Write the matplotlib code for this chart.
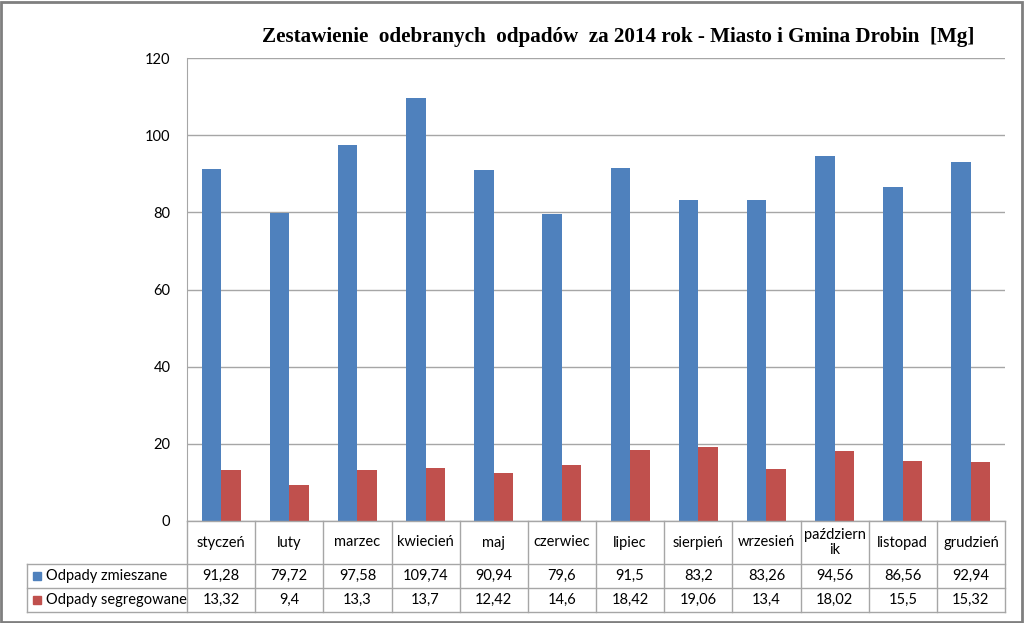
import matplotlib
matplotlib.use("Agg")
import matplotlib.pyplot as plt
from matplotlib.patches import Rectangle
from matplotlib.lines import Line2D
import numpy as np

months = ["styczeń", "luty", "marzec", "kwiecień", "maj", "czerwiec", "lipiec",
          "sierpień", "wrzesień", "październ\nik", "listopad", "grudzień"]
mixed = [91.28, 79.72, 97.58, 109.74, 90.94, 79.6, 91.5, 83.2, 83.26, 94.56, 86.56, 92.94]
mixed_labels = ["91,28", "79,72", "97,58", "109,74", "90,94", "79,6", "91,5", "83,2", "83,26", "94,56", "86,56", "92,94"]
segregated = [13.32, 9.4, 13.3, 13.7, 12.42, 14.6, 18.42, 19.06, 13.4, 18.02, 15.5, 15.32]
segregated_labels = ["13,32", "9,4", "13,3", "13,7", "12,42", "14,6", "18,42", "19,06", "13,4", "18,02", "15,5", "15,32"]
series_names = ["Odpady zmieszane", "Odpady segregowane"]
yticks = [0, 20, 40, 60, 80, 100, 120]
title = "Zestawienie  odebranych  odpadów  za 2014 rok - Miasto i Gmina Drobin  [Mg]"

W, H = 1024, 623
fig = plt.figure(figsize=(W / 100, H / 100), dpi=100)
BLUE = "#4F81BD"
RED = "#C0504D"
GRID = "#A6A6A6"
FONT = "Lato"
FS = 10.5

def fx(px):
    return px / W

def fy(py):
    return 1 - py / H

x0, x1 = 187, 1005
ytop, ybot = 58, 521
ax = fig.add_axes([fx(x0), fy(ybot), fx(x1) - fx(x0), fy(ytop) - fy(ybot)])
n = len(months)
x = np.arange(n)
bw = 0.285
ax.bar(x - bw / 2, mixed, bw, color=BLUE, zorder=3)
ax.bar(x + bw / 2, segregated, bw, color=RED, zorder=3)
ax.set_xlim(-0.5, n - 0.5)
ax.set_ylim(0, 120)
ax.set_yticks(yticks)
ax.set_yticklabels([str(t) for t in yticks], fontsize=FS, fontfamily=FONT)
ax.tick_params(axis="y", length=0, pad=12)
ax.set_xticks([])
ax.grid(axis="y", color=GRID, linewidth=1, zorder=0)
for s in ["top", "right", "bottom"]:
    ax.spines[s].set_visible(False)
ax.spines["left"].set_color(GRID)

# data table
cw = (x1 - x0) / n
r0, r1, r2, r3 = 521, 564, 588, 612
lab_left = 27
lines = []
lines.append(Line2D([fx(x0), fx(x1)], [fy(r0), fy(r0)]))
for r in (r1, r2, r3):
    lines.append(Line2D([fx(lab_left), fx(x1)], [fy(r), fy(r)]))
for i in range(n + 1):
    xx = x0 + i * cw
    lines.append(Line2D([fx(xx), fx(xx)], [fy(r0), fy(r3)]))
lines.append(Line2D([fx(lab_left), fx(lab_left)], [fy(r1), fy(r3)]))
for ln in lines:
    ln.set_color(GRID)
    ln.set_linewidth(1)
    fig.add_artist(ln)

for i in range(n):
    cx = x0 + (i + 0.5) * cw
    fig.text(fx(cx), fy((r0 + r1) / 2), months[i], ha="center", va="center",
             fontsize=FS, fontfamily=FONT, linespacing=1.15)
    fig.text(fx(cx), fy((r1 + r2) / 2), mixed_labels[i], ha="center", va="center",
             fontsize=FS, fontfamily=FONT)
    fig.text(fx(cx), fy((r2 + r3) / 2), segregated_labels[i], ha="center", va="center",
             fontsize=FS, fontfamily=FONT)

for name, col, (ra, rb) in zip(series_names, [BLUE, RED], [(r1, r2), (r2, r3)]):
    cy = (ra + rb) / 2
    fig.add_artist(Rectangle((fx(33), fy(cy + 4)), fx(8), fy(0) - fy(8), color=col))
    fig.text(fx(46), fy(cy), name, ha="left", va="center", fontsize=FS, fontfamily=FONT)

fig.text(fx(618), fy(37), title, ha="center", va="center", fontsize=15.2,
         fontweight="bold", fontfamily="Liberation Serif")

fig.add_artist(Rectangle((0.001, 0.002), 0.997, 0.995, fill=False,
                         edgecolor="#7F7F7F", linewidth=2))

fig.savefig("out.png", dpi=100)
